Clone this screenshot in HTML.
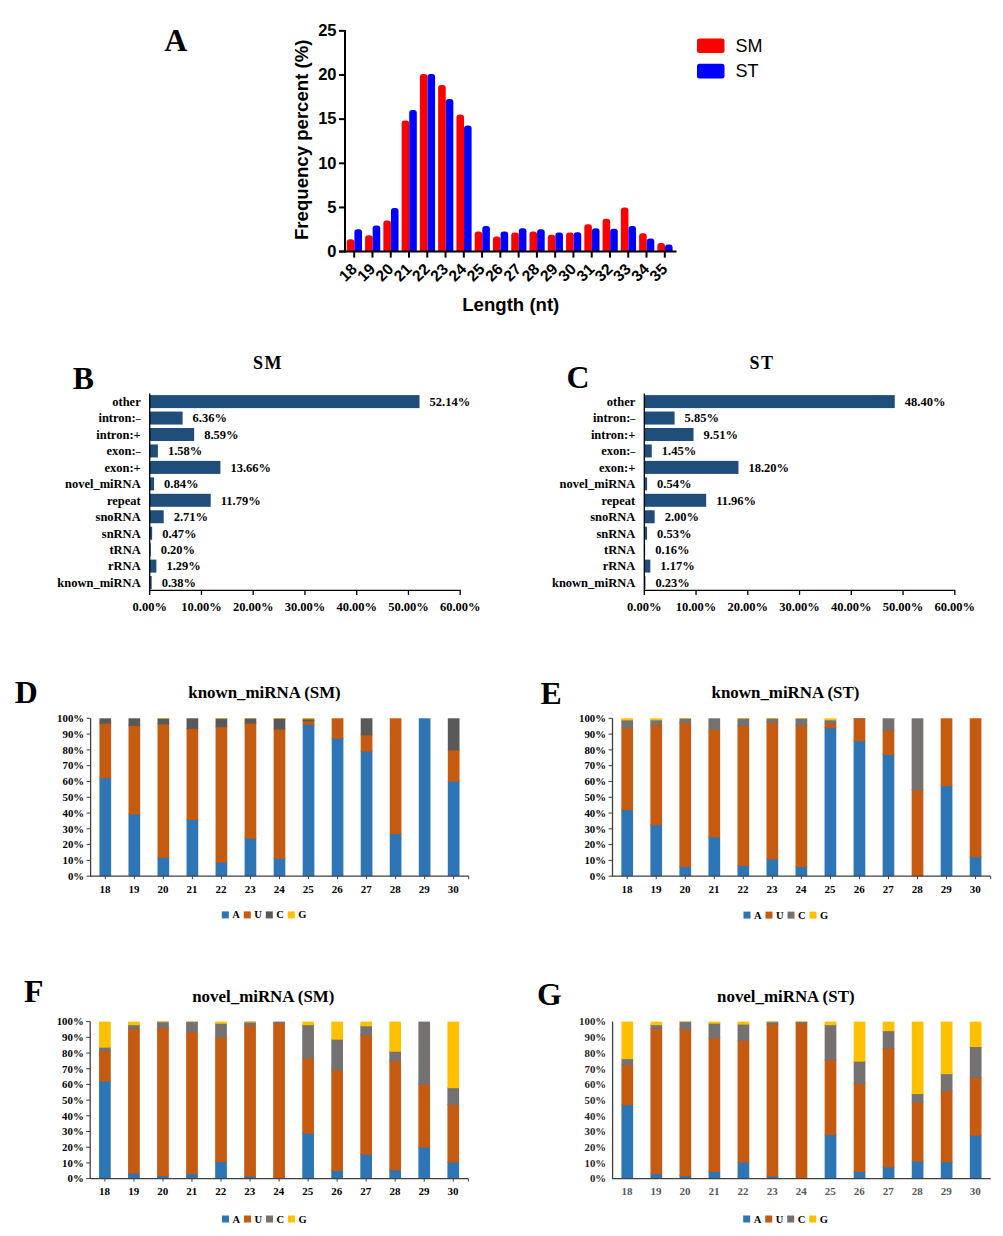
<!DOCTYPE html>
<html><head><meta charset="utf-8"><title>Figure</title>
<style>
html,body{margin:0;padding:0;background:#fff;}
body{width:1003px;height:1236px;overflow:hidden;font-family:"Liberation Serif", serif;}
svg{display:block;}
</style></head>
<body>
<svg width="1003" height="1236" viewBox="0 0 1003 1236">
<rect x="0" y="0" width="1003" height="1236" fill="#fff"/>
<text x="164.30" y="51.20" font-family="'Liberation Serif', serif" font-size="31.8" font-weight="bold" text-anchor="start" fill="#000" >A</text>
<text x="72.80" y="389.20" font-family="'Liberation Serif', serif" font-size="31.8" font-weight="bold" text-anchor="start" fill="#000" >B</text>
<text x="566.50" y="388.00" font-family="'Liberation Serif', serif" font-size="31.8" font-weight="bold" text-anchor="start" fill="#000" >C</text>
<text x="14.70" y="702.60" font-family="'Liberation Serif', serif" font-size="31.8" font-weight="bold" text-anchor="start" fill="#000" >D</text>
<text x="540.50" y="703.50" font-family="'Liberation Serif', serif" font-size="31.8" font-weight="bold" text-anchor="start" fill="#000" >E</text>
<text x="24.00" y="1001.80" font-family="'Liberation Serif', serif" font-size="31.8" font-weight="bold" text-anchor="start" fill="#000" >F</text>
<text x="537.00" y="1004.70" font-family="'Liberation Serif', serif" font-size="31.8" font-weight="bold" text-anchor="start" fill="#000" >G</text>
<path d="M346.80,251.60 V242.24 Q346.80,239.24 349.80,239.24 H351.40 Q354.40,239.24 354.40,242.24 V251.60 Z" fill="#FF0000"/>
<path d="M354.40,251.60 V232.17 Q354.40,229.17 357.40,229.17 H359.00 Q362.00,229.17 362.00,232.17 V251.60 Z" fill="#0000FF"/>
<path d="M365.07,251.60 V238.26 Q365.07,235.26 368.07,235.26 H369.67 Q372.67,235.26 372.67,238.26 V251.60 Z" fill="#FF0000"/>
<path d="M372.67,251.60 V228.46 Q372.67,225.46 375.67,225.46 H377.27 Q380.27,225.46 380.27,228.46 V251.60 Z" fill="#0000FF"/>
<path d="M383.34,251.60 V223.61 Q383.34,220.61 386.34,220.61 H387.94 Q390.94,220.61 390.94,223.61 V251.60 Z" fill="#FF0000"/>
<path d="M390.94,251.60 V210.89 Q390.94,207.89 393.94,207.89 H395.54 Q398.54,207.89 398.54,210.89 V251.60 Z" fill="#0000FF"/>
<path d="M401.61,251.60 V123.47 Q401.61,120.47 404.61,120.47 H406.21 Q409.21,120.47 409.21,123.47 V251.60 Z" fill="#FF0000"/>
<path d="M409.21,251.60 V113.06 Q409.21,110.06 412.21,110.06 H413.81 Q416.81,110.06 416.81,113.06 V251.60 Z" fill="#0000FF"/>
<path d="M419.88,251.60 V76.94 Q419.88,73.94 422.88,73.94 H424.48 Q427.48,73.94 427.48,76.94 V251.60 Z" fill="#FF0000"/>
<path d="M427.48,251.60 V76.94 Q427.48,73.94 430.48,73.94 H432.08 Q435.08,73.94 435.08,76.94 V251.60 Z" fill="#0000FF"/>
<path d="M438.15,251.60 V87.98 Q438.15,84.98 441.15,84.98 H442.75 Q445.75,84.98 445.75,87.98 V251.60 Z" fill="#FF0000"/>
<path d="M445.75,251.60 V101.93 Q445.75,98.93 448.75,98.93 H450.35 Q453.35,98.93 453.35,101.93 V251.60 Z" fill="#0000FF"/>
<path d="M456.42,251.60 V117.47 Q456.42,114.47 459.42,114.47 H461.02 Q464.02,114.47 464.02,117.47 V251.60 Z" fill="#FF0000"/>
<path d="M464.02,251.60 V128.42 Q464.02,125.42 467.02,125.42 H468.62 Q471.62,125.42 471.62,128.42 V251.60 Z" fill="#0000FF"/>
<path d="M474.69,251.60 V234.38 Q474.69,231.38 477.69,231.38 H479.29 Q482.29,231.38 482.29,234.38 V251.60 Z" fill="#FF0000"/>
<path d="M482.29,251.60 V229.08 Q482.29,226.08 485.29,226.08 H486.89 Q489.89,226.08 489.89,229.08 V251.60 Z" fill="#0000FF"/>
<path d="M492.96,251.60 V239.41 Q492.96,236.41 495.96,236.41 H497.56 Q500.56,236.41 500.56,239.41 V251.60 Z" fill="#FF0000"/>
<path d="M500.56,251.60 V234.38 Q500.56,231.38 503.56,231.38 H505.16 Q508.16,231.38 508.16,234.38 V251.60 Z" fill="#0000FF"/>
<path d="M511.23,251.60 V235.62 Q511.23,232.62 514.23,232.62 H515.83 Q518.83,232.62 518.83,235.62 V251.60 Z" fill="#FF0000"/>
<path d="M518.83,251.60 V231.20 Q518.83,228.20 521.83,228.20 H523.43 Q526.43,228.20 526.43,231.20 V251.60 Z" fill="#0000FF"/>
<path d="M529.50,251.60 V234.38 Q529.50,231.38 532.50,231.38 H534.10 Q537.10,231.38 537.10,234.38 V251.60 Z" fill="#FF0000"/>
<path d="M537.10,251.60 V232.35 Q537.10,229.35 540.10,229.35 H541.70 Q544.70,229.35 544.70,232.35 V251.60 Z" fill="#0000FF"/>
<path d="M547.77,251.60 V237.82 Q547.77,234.82 550.77,234.82 H552.37 Q555.37,234.82 555.37,237.82 V251.60 Z" fill="#FF0000"/>
<path d="M555.37,251.60 V235.62 Q555.37,232.62 558.37,232.62 H559.97 Q562.97,232.62 562.97,235.62 V251.60 Z" fill="#0000FF"/>
<path d="M566.04,251.60 V235.44 Q566.04,232.44 569.04,232.44 H570.64 Q573.64,232.44 573.64,235.44 V251.60 Z" fill="#FF0000"/>
<path d="M573.64,251.60 V235.26 Q573.64,232.26 576.64,232.26 H578.24 Q581.24,232.26 581.24,235.26 V251.60 Z" fill="#0000FF"/>
<path d="M584.31,251.60 V227.32 Q584.31,224.32 587.31,224.32 H588.91 Q591.91,224.32 591.91,227.32 V251.60 Z" fill="#FF0000"/>
<path d="M591.91,251.60 V231.20 Q591.91,228.20 594.91,228.20 H596.51 Q599.51,228.20 599.51,231.20 V251.60 Z" fill="#0000FF"/>
<path d="M602.58,251.60 V221.84 Q602.58,218.84 605.58,218.84 H607.18 Q610.18,218.84 610.18,221.84 V251.60 Z" fill="#FF0000"/>
<path d="M610.18,251.60 V231.73 Q610.18,228.73 613.18,228.73 H614.78 Q617.78,228.73 617.78,231.73 V251.60 Z" fill="#0000FF"/>
<path d="M620.85,251.60 V210.45 Q620.85,207.45 623.85,207.45 H625.45 Q628.45,207.45 628.45,210.45 V251.60 Z" fill="#FF0000"/>
<path d="M628.45,251.60 V229.08 Q628.45,226.08 631.45,226.08 H633.05 Q636.05,226.08 636.05,229.08 V251.60 Z" fill="#0000FF"/>
<path d="M639.12,251.60 V236.15 Q639.12,233.15 642.12,233.15 H643.72 Q646.72,233.15 646.72,236.15 V251.60 Z" fill="#FF0000"/>
<path d="M646.72,251.60 V241.53 Q646.72,238.53 649.72,238.53 H651.32 Q654.32,238.53 654.32,241.53 V251.60 Z" fill="#0000FF"/>
<path d="M657.39,251.60 V245.95 Q657.39,242.95 660.39,242.95 H661.99 Q664.99,242.95 664.99,245.95 V251.60 Z" fill="#FF0000"/>
<path d="M664.99,251.60 V247.54 Q664.99,244.54 667.99,244.54 H669.59 Q672.59,244.54 672.59,247.54 V251.60 Z" fill="#0000FF"/>
<line x1="345.00" y1="30.00" x2="345.00" y2="252.60" stroke="#000" stroke-width="2"/>
<line x1="339.00" y1="251.60" x2="676.50" y2="251.60" stroke="#000" stroke-width="2"/>
<line x1="339.00" y1="251.60" x2="345.00" y2="251.60" stroke="#000" stroke-width="2"/>
<text x="336.50" y="256.80" font-family="'Liberation Sans', sans-serif" font-size="16.5" font-weight="bold" text-anchor="end" fill="#000" >0</text>
<line x1="339.00" y1="207.45" x2="345.00" y2="207.45" stroke="#000" stroke-width="2"/>
<text x="336.50" y="212.65" font-family="'Liberation Sans', sans-serif" font-size="16.5" font-weight="bold" text-anchor="end" fill="#000" >5</text>
<line x1="339.00" y1="163.30" x2="345.00" y2="163.30" stroke="#000" stroke-width="2"/>
<text x="336.50" y="168.50" font-family="'Liberation Sans', sans-serif" font-size="16.5" font-weight="bold" text-anchor="end" fill="#000" >10</text>
<line x1="339.00" y1="119.15" x2="345.00" y2="119.15" stroke="#000" stroke-width="2"/>
<text x="336.50" y="124.35" font-family="'Liberation Sans', sans-serif" font-size="16.5" font-weight="bold" text-anchor="end" fill="#000" >15</text>
<line x1="339.00" y1="75.00" x2="345.00" y2="75.00" stroke="#000" stroke-width="2"/>
<text x="336.50" y="80.20" font-family="'Liberation Sans', sans-serif" font-size="16.5" font-weight="bold" text-anchor="end" fill="#000" >20</text>
<line x1="339.00" y1="30.85" x2="345.00" y2="30.85" stroke="#000" stroke-width="2"/>
<text x="336.50" y="36.05" font-family="'Liberation Sans', sans-serif" font-size="16.5" font-weight="bold" text-anchor="end" fill="#000" >25</text>
<line x1="354.20" y1="251.60" x2="354.20" y2="257.60" stroke="#000" stroke-width="2"/>
<text x="0.00" y="0.00" font-family="'Liberation Sans', sans-serif" font-size="15.7" font-weight="bold" text-anchor="end" fill="#000" transform="translate(349.90,262.20) rotate(-45) translate(0,11.2)">18</text>
<line x1="372.47" y1="251.60" x2="372.47" y2="257.60" stroke="#000" stroke-width="2"/>
<text x="0.00" y="0.00" font-family="'Liberation Sans', sans-serif" font-size="15.7" font-weight="bold" text-anchor="end" fill="#000" transform="translate(368.17,262.20) rotate(-45) translate(0,11.2)">19</text>
<line x1="390.74" y1="251.60" x2="390.74" y2="257.60" stroke="#000" stroke-width="2"/>
<text x="0.00" y="0.00" font-family="'Liberation Sans', sans-serif" font-size="15.7" font-weight="bold" text-anchor="end" fill="#000" transform="translate(386.44,262.20) rotate(-45) translate(0,11.2)">20</text>
<line x1="409.01" y1="251.60" x2="409.01" y2="257.60" stroke="#000" stroke-width="2"/>
<text x="0.00" y="0.00" font-family="'Liberation Sans', sans-serif" font-size="15.7" font-weight="bold" text-anchor="end" fill="#000" transform="translate(404.71,262.20) rotate(-45) translate(0,11.2)">21</text>
<line x1="427.28" y1="251.60" x2="427.28" y2="257.60" stroke="#000" stroke-width="2"/>
<text x="0.00" y="0.00" font-family="'Liberation Sans', sans-serif" font-size="15.7" font-weight="bold" text-anchor="end" fill="#000" transform="translate(422.98,262.20) rotate(-45) translate(0,11.2)">22</text>
<line x1="445.55" y1="251.60" x2="445.55" y2="257.60" stroke="#000" stroke-width="2"/>
<text x="0.00" y="0.00" font-family="'Liberation Sans', sans-serif" font-size="15.7" font-weight="bold" text-anchor="end" fill="#000" transform="translate(441.25,262.20) rotate(-45) translate(0,11.2)">23</text>
<line x1="463.82" y1="251.60" x2="463.82" y2="257.60" stroke="#000" stroke-width="2"/>
<text x="0.00" y="0.00" font-family="'Liberation Sans', sans-serif" font-size="15.7" font-weight="bold" text-anchor="end" fill="#000" transform="translate(459.52,262.20) rotate(-45) translate(0,11.2)">24</text>
<line x1="482.09" y1="251.60" x2="482.09" y2="257.60" stroke="#000" stroke-width="2"/>
<text x="0.00" y="0.00" font-family="'Liberation Sans', sans-serif" font-size="15.7" font-weight="bold" text-anchor="end" fill="#000" transform="translate(477.79,262.20) rotate(-45) translate(0,11.2)">25</text>
<line x1="500.36" y1="251.60" x2="500.36" y2="257.60" stroke="#000" stroke-width="2"/>
<text x="0.00" y="0.00" font-family="'Liberation Sans', sans-serif" font-size="15.7" font-weight="bold" text-anchor="end" fill="#000" transform="translate(496.06,262.20) rotate(-45) translate(0,11.2)">26</text>
<line x1="518.63" y1="251.60" x2="518.63" y2="257.60" stroke="#000" stroke-width="2"/>
<text x="0.00" y="0.00" font-family="'Liberation Sans', sans-serif" font-size="15.7" font-weight="bold" text-anchor="end" fill="#000" transform="translate(514.33,262.20) rotate(-45) translate(0,11.2)">27</text>
<line x1="536.90" y1="251.60" x2="536.90" y2="257.60" stroke="#000" stroke-width="2"/>
<text x="0.00" y="0.00" font-family="'Liberation Sans', sans-serif" font-size="15.7" font-weight="bold" text-anchor="end" fill="#000" transform="translate(532.60,262.20) rotate(-45) translate(0,11.2)">28</text>
<line x1="555.17" y1="251.60" x2="555.17" y2="257.60" stroke="#000" stroke-width="2"/>
<text x="0.00" y="0.00" font-family="'Liberation Sans', sans-serif" font-size="15.7" font-weight="bold" text-anchor="end" fill="#000" transform="translate(550.87,262.20) rotate(-45) translate(0,11.2)">29</text>
<line x1="573.44" y1="251.60" x2="573.44" y2="257.60" stroke="#000" stroke-width="2"/>
<text x="0.00" y="0.00" font-family="'Liberation Sans', sans-serif" font-size="15.7" font-weight="bold" text-anchor="end" fill="#000" transform="translate(569.14,262.20) rotate(-45) translate(0,11.2)">30</text>
<line x1="591.71" y1="251.60" x2="591.71" y2="257.60" stroke="#000" stroke-width="2"/>
<text x="0.00" y="0.00" font-family="'Liberation Sans', sans-serif" font-size="15.7" font-weight="bold" text-anchor="end" fill="#000" transform="translate(587.41,262.20) rotate(-45) translate(0,11.2)">31</text>
<line x1="609.98" y1="251.60" x2="609.98" y2="257.60" stroke="#000" stroke-width="2"/>
<text x="0.00" y="0.00" font-family="'Liberation Sans', sans-serif" font-size="15.7" font-weight="bold" text-anchor="end" fill="#000" transform="translate(605.68,262.20) rotate(-45) translate(0,11.2)">32</text>
<line x1="628.25" y1="251.60" x2="628.25" y2="257.60" stroke="#000" stroke-width="2"/>
<text x="0.00" y="0.00" font-family="'Liberation Sans', sans-serif" font-size="15.7" font-weight="bold" text-anchor="end" fill="#000" transform="translate(623.95,262.20) rotate(-45) translate(0,11.2)">33</text>
<line x1="646.52" y1="251.60" x2="646.52" y2="257.60" stroke="#000" stroke-width="2"/>
<text x="0.00" y="0.00" font-family="'Liberation Sans', sans-serif" font-size="15.7" font-weight="bold" text-anchor="end" fill="#000" transform="translate(642.22,262.20) rotate(-45) translate(0,11.2)">34</text>
<line x1="664.79" y1="251.60" x2="664.79" y2="257.60" stroke="#000" stroke-width="2"/>
<text x="0.00" y="0.00" font-family="'Liberation Sans', sans-serif" font-size="15.7" font-weight="bold" text-anchor="end" fill="#000" transform="translate(660.49,262.20) rotate(-45) translate(0,11.2)">35</text>
<text x="0.00" y="0.00" font-family="'Liberation Sans', sans-serif" font-size="18.6" font-weight="bold" text-anchor="middle" fill="#000" transform="translate(307.9,139.8) rotate(-90)">Frequency percent (%)</text>
<text x="510.80" y="310.90" font-family="'Liberation Sans', sans-serif" font-size="18.6" font-weight="bold" text-anchor="middle" fill="#000" >Length (nt)</text>
<rect x="697.00" y="38.50" width="27.50" height="14.50" fill="#FF0000" rx="2.5"/>
<rect x="697.00" y="63.70" width="27.50" height="14.80" fill="#0000FF" rx="2.5"/>
<text x="735.50" y="52.30" font-family="'Liberation Sans', sans-serif" font-size="18" font-weight="normal" text-anchor="start" fill="#000" >SM</text>
<text x="735.50" y="77.30" font-family="'Liberation Sans', sans-serif" font-size="18" font-weight="normal" text-anchor="start" fill="#000" >ST</text>
<text x="268.00" y="369.30" font-family="'Liberation Serif', serif" font-size="18" font-weight="bold" text-anchor="middle" fill="#000" letter-spacing="1.4">SM</text>
<rect x="149.70" y="395.10" width="269.82" height="13.00" fill="#1F4E7A" />
<text x="140.70" y="405.90" font-family="'Liberation Serif', serif" font-size="12.5" font-weight="bold" text-anchor="end" fill="#000" >other</text>
<text x="429.52" y="405.90" font-family="'Liberation Serif', serif" font-size="12.5" font-weight="bold" text-anchor="start" fill="#000" >52.14%</text>
<rect x="149.70" y="411.55" width="32.91" height="13.00" fill="#1F4E7A" />
<text x="140.70" y="422.35" font-family="'Liberation Serif', serif" font-size="12.5" font-weight="bold" text-anchor="end" fill="#000" >intron:<tspan font-size="10">–</tspan></text>
<text x="192.61" y="422.35" font-family="'Liberation Serif', serif" font-size="12.5" font-weight="bold" text-anchor="start" fill="#000" >6.36%</text>
<rect x="149.70" y="428.00" width="44.45" height="13.00" fill="#1F4E7A" />
<text x="140.70" y="438.80" font-family="'Liberation Serif', serif" font-size="12.5" font-weight="bold" text-anchor="end" fill="#000" >intron:+</text>
<text x="204.15" y="438.80" font-family="'Liberation Serif', serif" font-size="12.5" font-weight="bold" text-anchor="start" fill="#000" >8.59%</text>
<rect x="149.70" y="444.45" width="8.18" height="13.00" fill="#1F4E7A" />
<text x="140.70" y="455.25" font-family="'Liberation Serif', serif" font-size="12.5" font-weight="bold" text-anchor="end" fill="#000" >exon:<tspan font-size="10">–</tspan></text>
<text x="167.88" y="455.25" font-family="'Liberation Serif', serif" font-size="12.5" font-weight="bold" text-anchor="start" fill="#000" >1.58%</text>
<rect x="149.70" y="460.90" width="70.69" height="13.00" fill="#1F4E7A" />
<text x="140.70" y="471.70" font-family="'Liberation Serif', serif" font-size="12.5" font-weight="bold" text-anchor="end" fill="#000" >exon:+</text>
<text x="230.39" y="471.70" font-family="'Liberation Serif', serif" font-size="12.5" font-weight="bold" text-anchor="start" fill="#000" >13.66%</text>
<rect x="149.70" y="477.35" width="4.35" height="13.00" fill="#1F4E7A" />
<text x="140.70" y="488.15" font-family="'Liberation Serif', serif" font-size="12.5" font-weight="bold" text-anchor="end" fill="#000" >novel_miRNA</text>
<text x="164.05" y="488.15" font-family="'Liberation Serif', serif" font-size="12.5" font-weight="bold" text-anchor="start" fill="#000" >0.84%</text>
<rect x="149.70" y="493.80" width="61.01" height="13.00" fill="#1F4E7A" />
<text x="140.70" y="504.60" font-family="'Liberation Serif', serif" font-size="12.5" font-weight="bold" text-anchor="end" fill="#000" >repeat</text>
<text x="220.71" y="504.60" font-family="'Liberation Serif', serif" font-size="12.5" font-weight="bold" text-anchor="start" fill="#000" >11.79%</text>
<rect x="149.70" y="510.25" width="14.02" height="13.00" fill="#1F4E7A" />
<text x="140.70" y="521.05" font-family="'Liberation Serif', serif" font-size="12.5" font-weight="bold" text-anchor="end" fill="#000" >snoRNA</text>
<text x="173.72" y="521.05" font-family="'Liberation Serif', serif" font-size="12.5" font-weight="bold" text-anchor="start" fill="#000" >2.71%</text>
<rect x="149.70" y="526.70" width="2.43" height="13.00" fill="#1F4E7A" />
<text x="140.70" y="537.50" font-family="'Liberation Serif', serif" font-size="12.5" font-weight="bold" text-anchor="end" fill="#000" >snRNA</text>
<text x="162.13" y="537.50" font-family="'Liberation Serif', serif" font-size="12.5" font-weight="bold" text-anchor="start" fill="#000" >0.47%</text>
<rect x="149.70" y="543.15" width="1.03" height="13.00" fill="#1F4E7A" />
<text x="140.70" y="553.95" font-family="'Liberation Serif', serif" font-size="12.5" font-weight="bold" text-anchor="end" fill="#000" >tRNA</text>
<text x="160.73" y="553.95" font-family="'Liberation Serif', serif" font-size="12.5" font-weight="bold" text-anchor="start" fill="#000" >0.20%</text>
<rect x="149.70" y="559.60" width="6.68" height="13.00" fill="#1F4E7A" />
<text x="140.70" y="570.40" font-family="'Liberation Serif', serif" font-size="12.5" font-weight="bold" text-anchor="end" fill="#000" >rRNA</text>
<text x="166.38" y="570.40" font-family="'Liberation Serif', serif" font-size="12.5" font-weight="bold" text-anchor="start" fill="#000" >1.29%</text>
<rect x="149.70" y="576.05" width="1.97" height="13.00" fill="#1F4E7A" />
<text x="140.70" y="586.85" font-family="'Liberation Serif', serif" font-size="12.5" font-weight="bold" text-anchor="end" fill="#000" >known_miRNA</text>
<text x="161.67" y="586.85" font-family="'Liberation Serif', serif" font-size="12.5" font-weight="bold" text-anchor="start" fill="#000" >0.38%</text>
<line x1="149.70" y1="393.40" x2="149.70" y2="590.90" stroke="#000" stroke-width="1.3"/>
<line x1="149.70" y1="590.40" x2="460.70" y2="590.40" stroke="#000" stroke-width="1.3"/>
<line x1="149.70" y1="590.40" x2="149.70" y2="594.90" stroke="#000" stroke-width="1.3"/>
<text x="149.70" y="610.90" font-family="'Liberation Serif', serif" font-size="12.5" font-weight="bold" text-anchor="middle" fill="#000" >0.00%</text>
<line x1="201.45" y1="590.40" x2="201.45" y2="594.90" stroke="#000" stroke-width="1.3"/>
<text x="201.45" y="610.90" font-family="'Liberation Serif', serif" font-size="12.5" font-weight="bold" text-anchor="middle" fill="#000" >10.00%</text>
<line x1="253.20" y1="590.40" x2="253.20" y2="594.90" stroke="#000" stroke-width="1.3"/>
<text x="253.20" y="610.90" font-family="'Liberation Serif', serif" font-size="12.5" font-weight="bold" text-anchor="middle" fill="#000" >20.00%</text>
<line x1="304.95" y1="590.40" x2="304.95" y2="594.90" stroke="#000" stroke-width="1.3"/>
<text x="304.95" y="610.90" font-family="'Liberation Serif', serif" font-size="12.5" font-weight="bold" text-anchor="middle" fill="#000" >30.00%</text>
<line x1="356.70" y1="590.40" x2="356.70" y2="594.90" stroke="#000" stroke-width="1.3"/>
<text x="356.70" y="610.90" font-family="'Liberation Serif', serif" font-size="12.5" font-weight="bold" text-anchor="middle" fill="#000" >40.00%</text>
<line x1="408.45" y1="590.40" x2="408.45" y2="594.90" stroke="#000" stroke-width="1.3"/>
<text x="408.45" y="610.90" font-family="'Liberation Serif', serif" font-size="12.5" font-weight="bold" text-anchor="middle" fill="#000" >50.00%</text>
<line x1="460.20" y1="590.40" x2="460.20" y2="594.90" stroke="#000" stroke-width="1.3"/>
<text x="460.20" y="610.90" font-family="'Liberation Serif', serif" font-size="12.5" font-weight="bold" text-anchor="middle" fill="#000" >60.00%</text>
<text x="762.00" y="369.30" font-family="'Liberation Serif', serif" font-size="18" font-weight="bold" text-anchor="middle" fill="#000" letter-spacing="1.4">ST</text>
<rect x="644.30" y="395.10" width="250.47" height="13.00" fill="#1F4E7A" />
<text x="635.30" y="405.90" font-family="'Liberation Serif', serif" font-size="12.5" font-weight="bold" text-anchor="end" fill="#000" >other</text>
<text x="904.77" y="405.90" font-family="'Liberation Serif', serif" font-size="12.5" font-weight="bold" text-anchor="start" fill="#000" >48.40%</text>
<rect x="644.30" y="411.55" width="30.27" height="13.00" fill="#1F4E7A" />
<text x="635.30" y="422.35" font-family="'Liberation Serif', serif" font-size="12.5" font-weight="bold" text-anchor="end" fill="#000" >intron:<tspan font-size="10">–</tspan></text>
<text x="684.57" y="422.35" font-family="'Liberation Serif', serif" font-size="12.5" font-weight="bold" text-anchor="start" fill="#000" >5.85%</text>
<rect x="644.30" y="428.00" width="49.21" height="13.00" fill="#1F4E7A" />
<text x="635.30" y="438.80" font-family="'Liberation Serif', serif" font-size="12.5" font-weight="bold" text-anchor="end" fill="#000" >intron:+</text>
<text x="703.51" y="438.80" font-family="'Liberation Serif', serif" font-size="12.5" font-weight="bold" text-anchor="start" fill="#000" >9.51%</text>
<rect x="644.30" y="444.45" width="7.50" height="13.00" fill="#1F4E7A" />
<text x="635.30" y="455.25" font-family="'Liberation Serif', serif" font-size="12.5" font-weight="bold" text-anchor="end" fill="#000" >exon:<tspan font-size="10">–</tspan></text>
<text x="661.80" y="455.25" font-family="'Liberation Serif', serif" font-size="12.5" font-weight="bold" text-anchor="start" fill="#000" >1.45%</text>
<rect x="644.30" y="460.90" width="94.18" height="13.00" fill="#1F4E7A" />
<text x="635.30" y="471.70" font-family="'Liberation Serif', serif" font-size="12.5" font-weight="bold" text-anchor="end" fill="#000" >exon:+</text>
<text x="748.48" y="471.70" font-family="'Liberation Serif', serif" font-size="12.5" font-weight="bold" text-anchor="start" fill="#000" >18.20%</text>
<rect x="644.30" y="477.35" width="2.79" height="13.00" fill="#1F4E7A" />
<text x="635.30" y="488.15" font-family="'Liberation Serif', serif" font-size="12.5" font-weight="bold" text-anchor="end" fill="#000" >novel_miRNA</text>
<text x="657.09" y="488.15" font-family="'Liberation Serif', serif" font-size="12.5" font-weight="bold" text-anchor="start" fill="#000" >0.54%</text>
<rect x="644.30" y="493.80" width="61.89" height="13.00" fill="#1F4E7A" />
<text x="635.30" y="504.60" font-family="'Liberation Serif', serif" font-size="12.5" font-weight="bold" text-anchor="end" fill="#000" >repeat</text>
<text x="716.19" y="504.60" font-family="'Liberation Serif', serif" font-size="12.5" font-weight="bold" text-anchor="start" fill="#000" >11.96%</text>
<rect x="644.30" y="510.25" width="10.35" height="13.00" fill="#1F4E7A" />
<text x="635.30" y="521.05" font-family="'Liberation Serif', serif" font-size="12.5" font-weight="bold" text-anchor="end" fill="#000" >snoRNA</text>
<text x="664.65" y="521.05" font-family="'Liberation Serif', serif" font-size="12.5" font-weight="bold" text-anchor="start" fill="#000" >2.00%</text>
<rect x="644.30" y="526.70" width="2.74" height="13.00" fill="#1F4E7A" />
<text x="635.30" y="537.50" font-family="'Liberation Serif', serif" font-size="12.5" font-weight="bold" text-anchor="end" fill="#000" >snRNA</text>
<text x="657.04" y="537.50" font-family="'Liberation Serif', serif" font-size="12.5" font-weight="bold" text-anchor="start" fill="#000" >0.53%</text>
<rect x="644.30" y="543.15" width="0.83" height="13.00" fill="#1F4E7A" />
<text x="635.30" y="553.95" font-family="'Liberation Serif', serif" font-size="12.5" font-weight="bold" text-anchor="end" fill="#000" >tRNA</text>
<text x="655.13" y="553.95" font-family="'Liberation Serif', serif" font-size="12.5" font-weight="bold" text-anchor="start" fill="#000" >0.16%</text>
<rect x="644.30" y="559.60" width="6.05" height="13.00" fill="#1F4E7A" />
<text x="635.30" y="570.40" font-family="'Liberation Serif', serif" font-size="12.5" font-weight="bold" text-anchor="end" fill="#000" >rRNA</text>
<text x="660.35" y="570.40" font-family="'Liberation Serif', serif" font-size="12.5" font-weight="bold" text-anchor="start" fill="#000" >1.17%</text>
<rect x="644.30" y="576.05" width="1.19" height="13.00" fill="#1F4E7A" />
<text x="635.30" y="586.85" font-family="'Liberation Serif', serif" font-size="12.5" font-weight="bold" text-anchor="end" fill="#000" >known_miRNA</text>
<text x="655.49" y="586.85" font-family="'Liberation Serif', serif" font-size="12.5" font-weight="bold" text-anchor="start" fill="#000" >0.23%</text>
<line x1="644.30" y1="393.40" x2="644.30" y2="590.90" stroke="#000" stroke-width="1.3"/>
<line x1="644.30" y1="590.40" x2="955.30" y2="590.40" stroke="#000" stroke-width="1.3"/>
<line x1="644.30" y1="590.40" x2="644.30" y2="594.90" stroke="#000" stroke-width="1.3"/>
<text x="644.30" y="610.90" font-family="'Liberation Serif', serif" font-size="12.5" font-weight="bold" text-anchor="middle" fill="#000" >0.00%</text>
<line x1="696.05" y1="590.40" x2="696.05" y2="594.90" stroke="#000" stroke-width="1.3"/>
<text x="696.05" y="610.90" font-family="'Liberation Serif', serif" font-size="12.5" font-weight="bold" text-anchor="middle" fill="#000" >10.00%</text>
<line x1="747.80" y1="590.40" x2="747.80" y2="594.90" stroke="#000" stroke-width="1.3"/>
<text x="747.80" y="610.90" font-family="'Liberation Serif', serif" font-size="12.5" font-weight="bold" text-anchor="middle" fill="#000" >20.00%</text>
<line x1="799.55" y1="590.40" x2="799.55" y2="594.90" stroke="#000" stroke-width="1.3"/>
<text x="799.55" y="610.90" font-family="'Liberation Serif', serif" font-size="12.5" font-weight="bold" text-anchor="middle" fill="#000" >30.00%</text>
<line x1="851.30" y1="590.40" x2="851.30" y2="594.90" stroke="#000" stroke-width="1.3"/>
<text x="851.30" y="610.90" font-family="'Liberation Serif', serif" font-size="12.5" font-weight="bold" text-anchor="middle" fill="#000" >40.00%</text>
<line x1="903.05" y1="590.40" x2="903.05" y2="594.90" stroke="#000" stroke-width="1.3"/>
<text x="903.05" y="610.90" font-family="'Liberation Serif', serif" font-size="12.5" font-weight="bold" text-anchor="middle" fill="#000" >50.00%</text>
<line x1="954.80" y1="590.40" x2="954.80" y2="594.90" stroke="#000" stroke-width="1.3"/>
<text x="954.80" y="610.90" font-family="'Liberation Serif', serif" font-size="12.5" font-weight="bold" text-anchor="middle" fill="#000" >60.00%</text>
<text x="264.50" y="697.50" font-family="'Liberation Serif', serif" font-size="16.9" font-weight="bold" text-anchor="middle" fill="#000" >known_miRNA (SM)</text>
<rect x="99.45" y="777.30" width="11.70" height="98.90" fill="#2E75B6" />
<rect x="99.45" y="722.67" width="11.70" height="55.63" fill="#C55A11" />
<rect x="99.45" y="718.30" width="11.70" height="5.37" fill="#595959" />
<text x="105.00" y="892.60" font-family="'Liberation Serif', serif" font-size="11" font-weight="bold" text-anchor="middle" fill="#000" >18</text>
<line x1="105.30" y1="876.20" x2="105.30" y2="879.20" stroke="#404040" stroke-width="1"/>
<rect x="128.48" y="813.62" width="11.70" height="62.58" fill="#2E75B6" />
<rect x="128.48" y="724.88" width="11.70" height="89.74" fill="#C55A11" />
<rect x="128.48" y="718.30" width="11.70" height="7.58" fill="#595959" />
<text x="134.03" y="892.60" font-family="'Liberation Serif', serif" font-size="11" font-weight="bold" text-anchor="middle" fill="#000" >19</text>
<line x1="134.33" y1="876.20" x2="134.33" y2="879.20" stroke="#404040" stroke-width="1"/>
<rect x="157.51" y="856.88" width="11.70" height="19.32" fill="#2E75B6" />
<rect x="157.51" y="723.30" width="11.70" height="134.58" fill="#C55A11" />
<rect x="157.51" y="718.30" width="11.70" height="6.00" fill="#595959" />
<rect x="157.51" y="718.30" width="11.70" height="0.47" fill="#FFC000" />
<text x="163.06" y="892.60" font-family="'Liberation Serif', serif" font-size="11" font-weight="bold" text-anchor="middle" fill="#000" >20</text>
<line x1="163.36" y1="876.20" x2="163.36" y2="879.20" stroke="#404040" stroke-width="1"/>
<rect x="186.54" y="818.99" width="11.70" height="57.21" fill="#2E75B6" />
<rect x="186.54" y="728.04" width="11.70" height="91.95" fill="#C55A11" />
<rect x="186.54" y="718.30" width="11.70" height="10.74" fill="#595959" />
<text x="192.09" y="892.60" font-family="'Liberation Serif', serif" font-size="11" font-weight="bold" text-anchor="middle" fill="#000" >21</text>
<line x1="192.39" y1="876.20" x2="192.39" y2="879.20" stroke="#404040" stroke-width="1"/>
<rect x="215.57" y="861.62" width="11.70" height="14.58" fill="#2E75B6" />
<rect x="215.57" y="726.14" width="11.70" height="136.48" fill="#C55A11" />
<rect x="215.57" y="718.30" width="11.70" height="8.84" fill="#595959" />
<rect x="215.57" y="718.30" width="11.70" height="0.47" fill="#FFC000" />
<text x="221.12" y="892.60" font-family="'Liberation Serif', serif" font-size="11" font-weight="bold" text-anchor="middle" fill="#000" >22</text>
<line x1="221.42" y1="876.20" x2="221.42" y2="879.20" stroke="#404040" stroke-width="1"/>
<rect x="244.60" y="837.62" width="11.70" height="38.58" fill="#2E75B6" />
<rect x="244.60" y="722.51" width="11.70" height="116.11" fill="#C55A11" />
<rect x="244.60" y="718.30" width="11.70" height="5.21" fill="#595959" />
<rect x="244.60" y="718.30" width="11.70" height="0.32" fill="#FFC000" />
<text x="250.15" y="892.60" font-family="'Liberation Serif', serif" font-size="11" font-weight="bold" text-anchor="middle" fill="#000" >23</text>
<line x1="250.45" y1="876.20" x2="250.45" y2="879.20" stroke="#404040" stroke-width="1"/>
<rect x="273.63" y="857.83" width="11.70" height="18.37" fill="#2E75B6" />
<rect x="273.63" y="728.51" width="11.70" height="130.32" fill="#C55A11" />
<rect x="273.63" y="718.30" width="11.70" height="11.21" fill="#595959" />
<rect x="273.63" y="718.30" width="11.70" height="0.47" fill="#FFC000" />
<text x="279.18" y="892.60" font-family="'Liberation Serif', serif" font-size="11" font-weight="bold" text-anchor="middle" fill="#000" >24</text>
<line x1="279.48" y1="876.20" x2="279.48" y2="879.20" stroke="#404040" stroke-width="1"/>
<rect x="302.66" y="723.93" width="11.70" height="152.27" fill="#2E75B6" />
<rect x="302.66" y="720.30" width="11.70" height="4.63" fill="#C55A11" />
<rect x="302.66" y="718.30" width="11.70" height="3.00" fill="#595959" />
<rect x="302.66" y="718.30" width="11.70" height="0.95" fill="#FFC000" />
<text x="308.21" y="892.60" font-family="'Liberation Serif', serif" font-size="11" font-weight="bold" text-anchor="middle" fill="#000" >25</text>
<line x1="308.51" y1="876.20" x2="308.51" y2="879.20" stroke="#404040" stroke-width="1"/>
<rect x="331.69" y="737.67" width="11.70" height="138.53" fill="#2E75B6" />
<rect x="331.69" y="718.30" width="11.70" height="20.37" fill="#C55A11" />
<text x="337.24" y="892.60" font-family="'Liberation Serif', serif" font-size="11" font-weight="bold" text-anchor="middle" fill="#000" >26</text>
<line x1="337.54" y1="876.20" x2="337.54" y2="879.20" stroke="#404040" stroke-width="1"/>
<rect x="360.72" y="750.46" width="11.70" height="125.74" fill="#2E75B6" />
<rect x="360.72" y="734.35" width="11.70" height="17.11" fill="#C55A11" />
<rect x="360.72" y="718.30" width="11.70" height="17.05" fill="#595959" />
<text x="366.27" y="892.60" font-family="'Liberation Serif', serif" font-size="11" font-weight="bold" text-anchor="middle" fill="#000" >27</text>
<line x1="366.57" y1="876.20" x2="366.57" y2="879.20" stroke="#404040" stroke-width="1"/>
<rect x="389.75" y="833.20" width="11.70" height="43.00" fill="#2E75B6" />
<rect x="389.75" y="718.30" width="11.70" height="115.90" fill="#C55A11" />
<text x="395.30" y="892.60" font-family="'Liberation Serif', serif" font-size="11" font-weight="bold" text-anchor="middle" fill="#000" >28</text>
<line x1="395.60" y1="876.20" x2="395.60" y2="879.20" stroke="#404040" stroke-width="1"/>
<rect x="418.78" y="718.30" width="11.70" height="157.90" fill="#2E75B6" />
<text x="424.33" y="892.60" font-family="'Liberation Serif', serif" font-size="11" font-weight="bold" text-anchor="middle" fill="#000" >29</text>
<line x1="424.63" y1="876.20" x2="424.63" y2="879.20" stroke="#404040" stroke-width="1"/>
<rect x="447.81" y="780.62" width="11.70" height="95.58" fill="#2E75B6" />
<rect x="447.81" y="749.35" width="11.70" height="32.26" fill="#C55A11" />
<rect x="447.81" y="718.30" width="11.70" height="32.05" fill="#595959" />
<text x="453.36" y="892.60" font-family="'Liberation Serif', serif" font-size="11" font-weight="bold" text-anchor="middle" fill="#000" >30</text>
<line x1="453.66" y1="876.20" x2="453.66" y2="879.20" stroke="#404040" stroke-width="1"/>
<line x1="90.60" y1="718.30" x2="90.60" y2="876.70" stroke="#404040" stroke-width="1.3"/>
<line x1="90.60" y1="876.20" x2="468.76" y2="876.20" stroke="#404040" stroke-width="1.3"/>
<line x1="468.76" y1="876.20" x2="468.76" y2="879.20" stroke="#404040" stroke-width="1"/>
<line x1="86.60" y1="876.20" x2="90.60" y2="876.20" stroke="#404040" stroke-width="1"/>
<text x="84.10" y="880.00" font-family="'Liberation Serif', serif" font-size="10.8" font-weight="bold" text-anchor="end" fill="#000" >0%</text>
<line x1="86.60" y1="860.41" x2="90.60" y2="860.41" stroke="#404040" stroke-width="1"/>
<text x="84.10" y="864.21" font-family="'Liberation Serif', serif" font-size="10.8" font-weight="bold" text-anchor="end" fill="#000" >10%</text>
<line x1="86.60" y1="844.62" x2="90.60" y2="844.62" stroke="#404040" stroke-width="1"/>
<text x="84.10" y="848.42" font-family="'Liberation Serif', serif" font-size="10.8" font-weight="bold" text-anchor="end" fill="#000" >20%</text>
<line x1="86.60" y1="828.83" x2="90.60" y2="828.83" stroke="#404040" stroke-width="1"/>
<text x="84.10" y="832.63" font-family="'Liberation Serif', serif" font-size="10.8" font-weight="bold" text-anchor="end" fill="#000" >30%</text>
<line x1="86.60" y1="813.04" x2="90.60" y2="813.04" stroke="#404040" stroke-width="1"/>
<text x="84.10" y="816.84" font-family="'Liberation Serif', serif" font-size="10.8" font-weight="bold" text-anchor="end" fill="#000" >40%</text>
<line x1="86.60" y1="797.25" x2="90.60" y2="797.25" stroke="#404040" stroke-width="1"/>
<text x="84.10" y="801.05" font-family="'Liberation Serif', serif" font-size="10.8" font-weight="bold" text-anchor="end" fill="#000" >50%</text>
<line x1="86.60" y1="781.46" x2="90.60" y2="781.46" stroke="#404040" stroke-width="1"/>
<text x="84.10" y="785.26" font-family="'Liberation Serif', serif" font-size="10.8" font-weight="bold" text-anchor="end" fill="#000" >60%</text>
<line x1="86.60" y1="765.67" x2="90.60" y2="765.67" stroke="#404040" stroke-width="1"/>
<text x="84.10" y="769.47" font-family="'Liberation Serif', serif" font-size="10.8" font-weight="bold" text-anchor="end" fill="#000" >70%</text>
<line x1="86.60" y1="749.88" x2="90.60" y2="749.88" stroke="#404040" stroke-width="1"/>
<text x="84.10" y="753.68" font-family="'Liberation Serif', serif" font-size="10.8" font-weight="bold" text-anchor="end" fill="#000" >80%</text>
<line x1="86.60" y1="734.09" x2="90.60" y2="734.09" stroke="#404040" stroke-width="1"/>
<text x="84.10" y="737.89" font-family="'Liberation Serif', serif" font-size="10.8" font-weight="bold" text-anchor="end" fill="#000" >90%</text>
<line x1="86.60" y1="718.30" x2="90.60" y2="718.30" stroke="#404040" stroke-width="1"/>
<text x="84.10" y="722.10" font-family="'Liberation Serif', serif" font-size="10.8" font-weight="bold" text-anchor="end" fill="#000" >100%</text>
<rect x="221.80" y="911.40" width="7.00" height="7.00" fill="#2E75B6" />
<text x="232.30" y="918.40" font-family="'Liberation Serif', serif" font-size="10.5" font-weight="bold" text-anchor="start" fill="#000" >A</text>
<rect x="243.80" y="911.40" width="7.00" height="7.00" fill="#C55A11" />
<text x="254.30" y="918.40" font-family="'Liberation Serif', serif" font-size="10.5" font-weight="bold" text-anchor="start" fill="#000" >U</text>
<rect x="265.80" y="911.40" width="7.00" height="7.00" fill="#595959" />
<text x="276.30" y="918.40" font-family="'Liberation Serif', serif" font-size="10.5" font-weight="bold" text-anchor="start" fill="#000" >C</text>
<rect x="287.80" y="911.40" width="7.00" height="7.00" fill="#FFC000" />
<text x="298.30" y="918.40" font-family="'Liberation Serif', serif" font-size="10.5" font-weight="bold" text-anchor="start" fill="#000" >G</text>
<text x="785.50" y="698.00" font-family="'Liberation Serif', serif" font-size="16.9" font-weight="bold" text-anchor="middle" fill="#000" >known_miRNA (ST)</text>
<rect x="621.35" y="809.20" width="11.70" height="67.00" fill="#2E75B6" />
<rect x="621.35" y="727.25" width="11.70" height="82.95" fill="#C55A11" />
<rect x="621.35" y="719.35" width="11.70" height="8.89" fill="#767171" />
<rect x="621.35" y="718.30" width="11.70" height="2.05" fill="#FFC000" />
<text x="626.90" y="892.60" font-family="'Liberation Serif', serif" font-size="11" font-weight="bold" text-anchor="middle" fill="#000" >18</text>
<line x1="627.20" y1="876.20" x2="627.20" y2="879.20" stroke="#404040" stroke-width="1"/>
<rect x="650.38" y="824.20" width="11.70" height="52.00" fill="#2E75B6" />
<rect x="650.38" y="724.25" width="11.70" height="100.95" fill="#C55A11" />
<rect x="650.38" y="719.35" width="11.70" height="5.89" fill="#767171" />
<rect x="650.38" y="718.30" width="11.70" height="2.05" fill="#FFC000" />
<text x="655.93" y="892.60" font-family="'Liberation Serif', serif" font-size="11" font-weight="bold" text-anchor="middle" fill="#000" >19</text>
<line x1="656.23" y1="876.20" x2="656.23" y2="879.20" stroke="#404040" stroke-width="1"/>
<rect x="679.41" y="866.04" width="11.70" height="10.16" fill="#2E75B6" />
<rect x="679.41" y="722.04" width="11.70" height="145.00" fill="#C55A11" />
<rect x="679.41" y="718.30" width="11.70" height="4.74" fill="#767171" />
<rect x="679.41" y="718.30" width="11.70" height="0.47" fill="#FFC000" />
<text x="684.96" y="892.60" font-family="'Liberation Serif', serif" font-size="11" font-weight="bold" text-anchor="middle" fill="#000" >20</text>
<line x1="685.26" y1="876.20" x2="685.26" y2="879.20" stroke="#404040" stroke-width="1"/>
<rect x="708.44" y="836.36" width="11.70" height="39.84" fill="#2E75B6" />
<rect x="708.44" y="728.83" width="11.70" height="108.53" fill="#C55A11" />
<rect x="708.44" y="718.30" width="11.70" height="11.53" fill="#767171" />
<text x="713.99" y="892.60" font-family="'Liberation Serif', serif" font-size="11" font-weight="bold" text-anchor="middle" fill="#000" >21</text>
<line x1="714.29" y1="876.20" x2="714.29" y2="879.20" stroke="#404040" stroke-width="1"/>
<rect x="737.47" y="864.94" width="11.70" height="11.26" fill="#2E75B6" />
<rect x="737.47" y="724.88" width="11.70" height="141.06" fill="#C55A11" />
<rect x="737.47" y="718.30" width="11.70" height="7.58" fill="#767171" />
<rect x="737.47" y="718.30" width="11.70" height="0.47" fill="#FFC000" />
<text x="743.02" y="892.60" font-family="'Liberation Serif', serif" font-size="11" font-weight="bold" text-anchor="middle" fill="#000" >22</text>
<line x1="743.32" y1="876.20" x2="743.32" y2="879.20" stroke="#404040" stroke-width="1"/>
<rect x="766.50" y="858.46" width="11.70" height="17.74" fill="#2E75B6" />
<rect x="766.50" y="721.72" width="11.70" height="137.74" fill="#C55A11" />
<rect x="766.50" y="718.30" width="11.70" height="4.42" fill="#767171" />
<rect x="766.50" y="718.30" width="11.70" height="0.47" fill="#FFC000" />
<text x="772.05" y="892.60" font-family="'Liberation Serif', serif" font-size="11" font-weight="bold" text-anchor="middle" fill="#000" >23</text>
<line x1="772.35" y1="876.20" x2="772.35" y2="879.20" stroke="#404040" stroke-width="1"/>
<rect x="795.53" y="866.04" width="11.70" height="10.16" fill="#2E75B6" />
<rect x="795.53" y="724.88" width="11.70" height="142.16" fill="#C55A11" />
<rect x="795.53" y="718.30" width="11.70" height="7.58" fill="#767171" />
<rect x="795.53" y="718.30" width="11.70" height="0.47" fill="#FFC000" />
<text x="801.08" y="892.60" font-family="'Liberation Serif', serif" font-size="11" font-weight="bold" text-anchor="middle" fill="#000" >24</text>
<line x1="801.38" y1="876.20" x2="801.38" y2="879.20" stroke="#404040" stroke-width="1"/>
<rect x="824.56" y="727.25" width="11.70" height="148.95" fill="#2E75B6" />
<rect x="824.56" y="722.83" width="11.70" height="5.42" fill="#C55A11" />
<rect x="824.56" y="719.35" width="11.70" height="4.47" fill="#767171" />
<rect x="824.56" y="718.30" width="11.70" height="2.05" fill="#FFC000" />
<text x="830.11" y="892.60" font-family="'Liberation Serif', serif" font-size="11" font-weight="bold" text-anchor="middle" fill="#000" >25</text>
<line x1="830.41" y1="876.20" x2="830.41" y2="879.20" stroke="#404040" stroke-width="1"/>
<rect x="853.59" y="740.35" width="11.70" height="135.85" fill="#2E75B6" />
<rect x="853.59" y="718.30" width="11.70" height="23.05" fill="#C55A11" />
<rect x="853.59" y="718.30" width="11.70" height="0.79" fill="#767171" />
<text x="859.14" y="892.60" font-family="'Liberation Serif', serif" font-size="11" font-weight="bold" text-anchor="middle" fill="#000" >26</text>
<line x1="859.44" y1="876.20" x2="859.44" y2="879.20" stroke="#404040" stroke-width="1"/>
<rect x="882.62" y="754.09" width="11.70" height="122.11" fill="#2E75B6" />
<rect x="882.62" y="729.62" width="11.70" height="25.47" fill="#C55A11" />
<rect x="882.62" y="718.30" width="11.70" height="12.32" fill="#767171" />
<text x="888.17" y="892.60" font-family="'Liberation Serif', serif" font-size="11" font-weight="bold" text-anchor="middle" fill="#000" >27</text>
<line x1="888.47" y1="876.20" x2="888.47" y2="879.20" stroke="#404040" stroke-width="1"/>
<rect x="911.65" y="789.30" width="11.70" height="86.90" fill="#C55A11" />
<rect x="911.65" y="718.30" width="11.70" height="72.00" fill="#767171" />
<text x="917.20" y="892.60" font-family="'Liberation Serif', serif" font-size="11" font-weight="bold" text-anchor="middle" fill="#000" >28</text>
<line x1="917.50" y1="876.20" x2="917.50" y2="879.20" stroke="#404040" stroke-width="1"/>
<rect x="940.68" y="785.20" width="11.70" height="91.00" fill="#2E75B6" />
<rect x="940.68" y="718.30" width="11.70" height="67.90" fill="#C55A11" />
<text x="946.23" y="892.60" font-family="'Liberation Serif', serif" font-size="11" font-weight="bold" text-anchor="middle" fill="#000" >29</text>
<line x1="946.53" y1="876.20" x2="946.53" y2="879.20" stroke="#404040" stroke-width="1"/>
<rect x="969.71" y="856.25" width="11.70" height="19.95" fill="#2E75B6" />
<rect x="969.71" y="718.30" width="11.70" height="138.95" fill="#C55A11" />
<text x="975.26" y="892.60" font-family="'Liberation Serif', serif" font-size="11" font-weight="bold" text-anchor="middle" fill="#000" >30</text>
<line x1="975.56" y1="876.20" x2="975.56" y2="879.20" stroke="#404040" stroke-width="1"/>
<line x1="612.50" y1="718.30" x2="612.50" y2="876.70" stroke="#404040" stroke-width="1.3"/>
<line x1="612.50" y1="876.20" x2="990.66" y2="876.20" stroke="#404040" stroke-width="1.3"/>
<line x1="990.66" y1="876.20" x2="990.66" y2="879.20" stroke="#404040" stroke-width="1"/>
<line x1="608.50" y1="876.20" x2="612.50" y2="876.20" stroke="#404040" stroke-width="1"/>
<text x="606.00" y="880.00" font-family="'Liberation Serif', serif" font-size="10.8" font-weight="bold" text-anchor="end" fill="#000" >0%</text>
<line x1="608.50" y1="860.41" x2="612.50" y2="860.41" stroke="#404040" stroke-width="1"/>
<text x="606.00" y="864.21" font-family="'Liberation Serif', serif" font-size="10.8" font-weight="bold" text-anchor="end" fill="#000" >10%</text>
<line x1="608.50" y1="844.62" x2="612.50" y2="844.62" stroke="#404040" stroke-width="1"/>
<text x="606.00" y="848.42" font-family="'Liberation Serif', serif" font-size="10.8" font-weight="bold" text-anchor="end" fill="#000" >20%</text>
<line x1="608.50" y1="828.83" x2="612.50" y2="828.83" stroke="#404040" stroke-width="1"/>
<text x="606.00" y="832.63" font-family="'Liberation Serif', serif" font-size="10.8" font-weight="bold" text-anchor="end" fill="#000" >30%</text>
<line x1="608.50" y1="813.04" x2="612.50" y2="813.04" stroke="#404040" stroke-width="1"/>
<text x="606.00" y="816.84" font-family="'Liberation Serif', serif" font-size="10.8" font-weight="bold" text-anchor="end" fill="#000" >40%</text>
<line x1="608.50" y1="797.25" x2="612.50" y2="797.25" stroke="#404040" stroke-width="1"/>
<text x="606.00" y="801.05" font-family="'Liberation Serif', serif" font-size="10.8" font-weight="bold" text-anchor="end" fill="#000" >50%</text>
<line x1="608.50" y1="781.46" x2="612.50" y2="781.46" stroke="#404040" stroke-width="1"/>
<text x="606.00" y="785.26" font-family="'Liberation Serif', serif" font-size="10.8" font-weight="bold" text-anchor="end" fill="#000" >60%</text>
<line x1="608.50" y1="765.67" x2="612.50" y2="765.67" stroke="#404040" stroke-width="1"/>
<text x="606.00" y="769.47" font-family="'Liberation Serif', serif" font-size="10.8" font-weight="bold" text-anchor="end" fill="#000" >70%</text>
<line x1="608.50" y1="749.88" x2="612.50" y2="749.88" stroke="#404040" stroke-width="1"/>
<text x="606.00" y="753.68" font-family="'Liberation Serif', serif" font-size="10.8" font-weight="bold" text-anchor="end" fill="#000" >80%</text>
<line x1="608.50" y1="734.09" x2="612.50" y2="734.09" stroke="#404040" stroke-width="1"/>
<text x="606.00" y="737.89" font-family="'Liberation Serif', serif" font-size="10.8" font-weight="bold" text-anchor="end" fill="#000" >90%</text>
<line x1="608.50" y1="718.30" x2="612.50" y2="718.30" stroke="#404040" stroke-width="1"/>
<text x="606.00" y="722.10" font-family="'Liberation Serif', serif" font-size="10.8" font-weight="bold" text-anchor="end" fill="#000" >100%</text>
<rect x="743.50" y="911.60" width="7.00" height="7.00" fill="#2E75B6" />
<text x="754.00" y="918.60" font-family="'Liberation Serif', serif" font-size="10.5" font-weight="bold" text-anchor="start" fill="#000" >A</text>
<rect x="765.50" y="911.60" width="7.00" height="7.00" fill="#C55A11" />
<text x="776.00" y="918.60" font-family="'Liberation Serif', serif" font-size="10.5" font-weight="bold" text-anchor="start" fill="#000" >U</text>
<rect x="787.50" y="911.60" width="7.00" height="7.00" fill="#767171" />
<text x="798.00" y="918.60" font-family="'Liberation Serif', serif" font-size="10.5" font-weight="bold" text-anchor="start" fill="#000" >C</text>
<rect x="809.50" y="911.60" width="7.00" height="7.00" fill="#FFC000" />
<text x="820.00" y="918.60" font-family="'Liberation Serif', serif" font-size="10.5" font-weight="bold" text-anchor="start" fill="#000" >G</text>
<text x="263.30" y="1001.50" font-family="'Liberation Serif', serif" font-size="16.9" font-weight="bold" text-anchor="middle" fill="#000" >novel_miRNA (SM)</text>
<rect x="99.05" y="1080.42" width="11.70" height="98.18" fill="#2E75B6" />
<rect x="99.05" y="1050.12" width="11.70" height="31.30" fill="#C55A11" />
<rect x="99.05" y="1046.66" width="11.70" height="4.45" fill="#767171" />
<rect x="99.05" y="1021.60" width="11.70" height="26.06" fill="#FFC000" />
<text x="104.60" y="1195.00" font-family="'Liberation Serif', serif" font-size="11" font-weight="bold" text-anchor="middle" fill="#000" >18</text>
<line x1="104.90" y1="1178.60" x2="104.90" y2="1181.60" stroke="#404040" stroke-width="1"/>
<rect x="128.08" y="1172.58" width="11.70" height="6.02" fill="#2E75B6" />
<rect x="128.08" y="1028.14" width="11.70" height="145.44" fill="#C55A11" />
<rect x="128.08" y="1024.21" width="11.70" height="4.92" fill="#767171" />
<rect x="128.08" y="1021.60" width="11.70" height="3.61" fill="#FFC000" />
<text x="133.63" y="1195.00" font-family="'Liberation Serif', serif" font-size="11" font-weight="bold" text-anchor="middle" fill="#000" >19</text>
<line x1="133.93" y1="1178.60" x2="133.93" y2="1181.60" stroke="#404040" stroke-width="1"/>
<rect x="157.11" y="1175.09" width="11.70" height="3.51" fill="#2E75B6" />
<rect x="157.11" y="1027.04" width="11.70" height="149.05" fill="#C55A11" />
<rect x="157.11" y="1021.60" width="11.70" height="6.44" fill="#767171" />
<rect x="157.11" y="1021.60" width="11.70" height="0.63" fill="#FFC000" />
<text x="162.66" y="1195.00" font-family="'Liberation Serif', serif" font-size="11" font-weight="bold" text-anchor="middle" fill="#000" >20</text>
<line x1="162.96" y1="1178.60" x2="162.96" y2="1181.60" stroke="#404040" stroke-width="1"/>
<rect x="186.14" y="1173.20" width="11.70" height="5.40" fill="#2E75B6" />
<rect x="186.14" y="1031.12" width="11.70" height="143.09" fill="#C55A11" />
<rect x="186.14" y="1021.60" width="11.70" height="10.52" fill="#767171" />
<rect x="186.14" y="1021.60" width="11.70" height="0.47" fill="#FFC000" />
<text x="191.69" y="1195.00" font-family="'Liberation Serif', serif" font-size="11" font-weight="bold" text-anchor="middle" fill="#000" >21</text>
<line x1="191.99" y1="1178.60" x2="191.99" y2="1181.60" stroke="#404040" stroke-width="1"/>
<rect x="215.17" y="1161.12" width="11.70" height="17.48" fill="#2E75B6" />
<rect x="215.17" y="1036.77" width="11.70" height="125.34" fill="#C55A11" />
<rect x="215.17" y="1022.80" width="11.70" height="14.97" fill="#767171" />
<rect x="215.17" y="1021.60" width="11.70" height="2.20" fill="#FFC000" />
<text x="220.72" y="1195.00" font-family="'Liberation Serif', serif" font-size="11" font-weight="bold" text-anchor="middle" fill="#000" >22</text>
<line x1="221.02" y1="1178.60" x2="221.02" y2="1181.60" stroke="#404040" stroke-width="1"/>
<rect x="244.20" y="1175.56" width="11.70" height="3.04" fill="#2E75B6" />
<rect x="244.20" y="1024.53" width="11.70" height="152.03" fill="#C55A11" />
<rect x="244.20" y="1021.60" width="11.70" height="3.93" fill="#767171" />
<rect x="244.20" y="1021.60" width="11.70" height="0.94" fill="#FFC000" />
<text x="249.75" y="1195.00" font-family="'Liberation Serif', serif" font-size="11" font-weight="bold" text-anchor="middle" fill="#000" >23</text>
<line x1="250.05" y1="1178.60" x2="250.05" y2="1181.60" stroke="#404040" stroke-width="1"/>
<rect x="273.23" y="1022.33" width="11.70" height="156.27" fill="#C55A11" />
<rect x="273.23" y="1021.60" width="11.70" height="1.73" fill="#767171" />
<text x="278.78" y="1195.00" font-family="'Liberation Serif', serif" font-size="11" font-weight="bold" text-anchor="middle" fill="#000" >24</text>
<line x1="279.08" y1="1178.60" x2="279.08" y2="1181.60" stroke="#404040" stroke-width="1"/>
<rect x="302.26" y="1132.70" width="11.70" height="45.90" fill="#2E75B6" />
<rect x="302.26" y="1057.65" width="11.70" height="76.05" fill="#C55A11" />
<rect x="302.26" y="1024.21" width="11.70" height="34.44" fill="#767171" />
<rect x="302.26" y="1021.60" width="11.70" height="3.61" fill="#FFC000" />
<text x="307.81" y="1195.00" font-family="'Liberation Serif', serif" font-size="11" font-weight="bold" text-anchor="middle" fill="#000" >25</text>
<line x1="308.11" y1="1178.60" x2="308.11" y2="1181.60" stroke="#404040" stroke-width="1"/>
<rect x="331.29" y="1170.06" width="11.70" height="8.54" fill="#2E75B6" />
<rect x="331.29" y="1069.58" width="11.70" height="101.48" fill="#C55A11" />
<rect x="331.29" y="1038.65" width="11.70" height="31.93" fill="#767171" />
<rect x="331.29" y="1021.60" width="11.70" height="18.05" fill="#FFC000" />
<text x="336.84" y="1195.00" font-family="'Liberation Serif', serif" font-size="11" font-weight="bold" text-anchor="middle" fill="#000" >26</text>
<line x1="337.14" y1="1178.60" x2="337.14" y2="1181.60" stroke="#404040" stroke-width="1"/>
<rect x="360.32" y="1153.74" width="11.70" height="24.86" fill="#2E75B6" />
<rect x="360.32" y="1034.42" width="11.70" height="120.32" fill="#C55A11" />
<rect x="360.32" y="1025.31" width="11.70" height="10.11" fill="#767171" />
<rect x="360.32" y="1021.60" width="11.70" height="4.71" fill="#FFC000" />
<text x="365.87" y="1195.00" font-family="'Liberation Serif', serif" font-size="11" font-weight="bold" text-anchor="middle" fill="#000" >27</text>
<line x1="366.17" y1="1178.60" x2="366.17" y2="1181.60" stroke="#404040" stroke-width="1"/>
<rect x="389.35" y="1169.44" width="11.70" height="9.16" fill="#2E75B6" />
<rect x="389.35" y="1060.01" width="11.70" height="110.43" fill="#C55A11" />
<rect x="389.35" y="1050.74" width="11.70" height="10.26" fill="#767171" />
<rect x="389.35" y="1021.60" width="11.70" height="30.14" fill="#FFC000" />
<text x="394.90" y="1195.00" font-family="'Liberation Serif', serif" font-size="11" font-weight="bold" text-anchor="middle" fill="#000" >28</text>
<line x1="395.20" y1="1178.60" x2="395.20" y2="1181.60" stroke="#404040" stroke-width="1"/>
<rect x="418.38" y="1146.67" width="11.70" height="31.93" fill="#2E75B6" />
<rect x="418.38" y="1083.56" width="11.70" height="64.11" fill="#C55A11" />
<rect x="418.38" y="1021.60" width="11.70" height="62.96" fill="#767171" />
<text x="423.93" y="1195.00" font-family="'Liberation Serif', serif" font-size="11" font-weight="bold" text-anchor="middle" fill="#000" >29</text>
<line x1="424.23" y1="1178.60" x2="424.23" y2="1181.60" stroke="#404040" stroke-width="1"/>
<rect x="447.41" y="1161.59" width="11.70" height="17.01" fill="#2E75B6" />
<rect x="447.41" y="1103.81" width="11.70" height="58.78" fill="#C55A11" />
<rect x="447.41" y="1087.17" width="11.70" height="17.64" fill="#767171" />
<rect x="447.41" y="1021.60" width="11.70" height="66.57" fill="#FFC000" />
<text x="452.96" y="1195.00" font-family="'Liberation Serif', serif" font-size="11" font-weight="bold" text-anchor="middle" fill="#000" >30</text>
<line x1="453.26" y1="1178.60" x2="453.26" y2="1181.60" stroke="#404040" stroke-width="1"/>
<line x1="90.20" y1="1021.60" x2="90.20" y2="1179.10" stroke="#404040" stroke-width="1.3"/>
<line x1="90.20" y1="1178.60" x2="468.36" y2="1178.60" stroke="#404040" stroke-width="1.3"/>
<line x1="468.36" y1="1178.60" x2="468.36" y2="1181.60" stroke="#404040" stroke-width="1"/>
<line x1="86.20" y1="1178.60" x2="90.20" y2="1178.60" stroke="#404040" stroke-width="1"/>
<text x="83.70" y="1182.40" font-family="'Liberation Serif', serif" font-size="10.8" font-weight="bold" text-anchor="end" fill="#000" >0%</text>
<line x1="86.20" y1="1162.90" x2="90.20" y2="1162.90" stroke="#404040" stroke-width="1"/>
<text x="83.70" y="1166.70" font-family="'Liberation Serif', serif" font-size="10.8" font-weight="bold" text-anchor="end" fill="#000" >10%</text>
<line x1="86.20" y1="1147.20" x2="90.20" y2="1147.20" stroke="#404040" stroke-width="1"/>
<text x="83.70" y="1151.00" font-family="'Liberation Serif', serif" font-size="10.8" font-weight="bold" text-anchor="end" fill="#000" >20%</text>
<line x1="86.20" y1="1131.50" x2="90.20" y2="1131.50" stroke="#404040" stroke-width="1"/>
<text x="83.70" y="1135.30" font-family="'Liberation Serif', serif" font-size="10.8" font-weight="bold" text-anchor="end" fill="#000" >30%</text>
<line x1="86.20" y1="1115.80" x2="90.20" y2="1115.80" stroke="#404040" stroke-width="1"/>
<text x="83.70" y="1119.60" font-family="'Liberation Serif', serif" font-size="10.8" font-weight="bold" text-anchor="end" fill="#000" >40%</text>
<line x1="86.20" y1="1100.10" x2="90.20" y2="1100.10" stroke="#404040" stroke-width="1"/>
<text x="83.70" y="1103.90" font-family="'Liberation Serif', serif" font-size="10.8" font-weight="bold" text-anchor="end" fill="#000" >50%</text>
<line x1="86.20" y1="1084.40" x2="90.20" y2="1084.40" stroke="#404040" stroke-width="1"/>
<text x="83.70" y="1088.20" font-family="'Liberation Serif', serif" font-size="10.8" font-weight="bold" text-anchor="end" fill="#000" >60%</text>
<line x1="86.20" y1="1068.70" x2="90.20" y2="1068.70" stroke="#404040" stroke-width="1"/>
<text x="83.70" y="1072.50" font-family="'Liberation Serif', serif" font-size="10.8" font-weight="bold" text-anchor="end" fill="#000" >70%</text>
<line x1="86.20" y1="1053.00" x2="90.20" y2="1053.00" stroke="#404040" stroke-width="1"/>
<text x="83.70" y="1056.80" font-family="'Liberation Serif', serif" font-size="10.8" font-weight="bold" text-anchor="end" fill="#000" >80%</text>
<line x1="86.20" y1="1037.30" x2="90.20" y2="1037.30" stroke="#404040" stroke-width="1"/>
<text x="83.70" y="1041.10" font-family="'Liberation Serif', serif" font-size="10.8" font-weight="bold" text-anchor="end" fill="#000" >90%</text>
<line x1="86.20" y1="1021.60" x2="90.20" y2="1021.60" stroke="#404040" stroke-width="1"/>
<text x="83.70" y="1025.40" font-family="'Liberation Serif', serif" font-size="10.8" font-weight="bold" text-anchor="end" fill="#000" >100%</text>
<rect x="222.00" y="1215.50" width="7.00" height="7.00" fill="#2E75B6" />
<text x="232.50" y="1222.50" font-family="'Liberation Serif', serif" font-size="10.5" font-weight="bold" text-anchor="start" fill="#000" >A</text>
<rect x="244.00" y="1215.50" width="7.00" height="7.00" fill="#C55A11" />
<text x="254.50" y="1222.50" font-family="'Liberation Serif', serif" font-size="10.5" font-weight="bold" text-anchor="start" fill="#000" >U</text>
<rect x="266.00" y="1215.50" width="7.00" height="7.00" fill="#767171" />
<text x="276.50" y="1222.50" font-family="'Liberation Serif', serif" font-size="10.5" font-weight="bold" text-anchor="start" fill="#000" >C</text>
<rect x="288.00" y="1215.50" width="7.00" height="7.00" fill="#FFC000" />
<text x="298.50" y="1222.50" font-family="'Liberation Serif', serif" font-size="10.5" font-weight="bold" text-anchor="start" fill="#000" >G</text>
<text x="785.80" y="1002.00" font-family="'Liberation Serif', serif" font-size="16.9" font-weight="bold" text-anchor="middle" fill="#000" >novel_miRNA (ST)</text>
<rect x="621.45" y="1104.28" width="11.70" height="74.32" fill="#2E75B6" />
<rect x="621.45" y="1064.09" width="11.70" height="41.19" fill="#C55A11" />
<rect x="621.45" y="1058.12" width="11.70" height="6.97" fill="#767171" />
<rect x="621.45" y="1021.60" width="11.70" height="37.52" fill="#FFC000" />
<text x="627.00" y="1195.00" font-family="'Liberation Serif', serif" font-size="11" font-weight="bold" text-anchor="middle" fill="#595959" >18</text>
<rect x="650.48" y="1173.20" width="11.70" height="5.40" fill="#2E75B6" />
<rect x="650.48" y="1028.14" width="11.70" height="146.07" fill="#C55A11" />
<rect x="650.48" y="1024.21" width="11.70" height="4.92" fill="#767171" />
<rect x="650.48" y="1021.60" width="11.70" height="3.61" fill="#FFC000" />
<text x="656.03" y="1195.00" font-family="'Liberation Serif', serif" font-size="11" font-weight="bold" text-anchor="middle" fill="#595959" >19</text>
<rect x="679.51" y="1175.24" width="11.70" height="3.36" fill="#2E75B6" />
<rect x="679.51" y="1028.61" width="11.70" height="147.64" fill="#C55A11" />
<rect x="679.51" y="1021.60" width="11.70" height="8.01" fill="#767171" />
<rect x="679.51" y="1021.60" width="11.70" height="0.47" fill="#FFC000" />
<text x="685.06" y="1195.00" font-family="'Liberation Serif', serif" font-size="11" font-weight="bold" text-anchor="middle" fill="#595959" >20</text>
<rect x="708.54" y="1171.01" width="11.70" height="7.59" fill="#2E75B6" />
<rect x="708.54" y="1037.40" width="11.70" height="134.61" fill="#C55A11" />
<rect x="708.54" y="1022.64" width="11.70" height="15.76" fill="#767171" />
<rect x="708.54" y="1021.60" width="11.70" height="2.04" fill="#FFC000" />
<text x="714.09" y="1195.00" font-family="'Liberation Serif', serif" font-size="11" font-weight="bold" text-anchor="middle" fill="#595959" >21</text>
<rect x="737.57" y="1161.59" width="11.70" height="17.01" fill="#2E75B6" />
<rect x="737.57" y="1039.60" width="11.70" height="122.99" fill="#C55A11" />
<rect x="737.57" y="1023.58" width="11.70" height="17.01" fill="#767171" />
<rect x="737.57" y="1021.60" width="11.70" height="2.98" fill="#FFC000" />
<text x="743.12" y="1195.00" font-family="'Liberation Serif', serif" font-size="11" font-weight="bold" text-anchor="middle" fill="#595959" >22</text>
<rect x="766.60" y="1175.56" width="11.70" height="3.04" fill="#2E75B6" />
<rect x="766.60" y="1023.74" width="11.70" height="152.82" fill="#C55A11" />
<rect x="766.60" y="1021.60" width="11.70" height="3.14" fill="#767171" />
<rect x="766.60" y="1021.60" width="11.70" height="0.63" fill="#FFC000" />
<text x="772.15" y="1195.00" font-family="'Liberation Serif', serif" font-size="11" font-weight="bold" text-anchor="middle" fill="#595959" >23</text>
<rect x="795.63" y="1022.17" width="11.70" height="156.43" fill="#C55A11" />
<rect x="795.63" y="1021.60" width="11.70" height="1.57" fill="#767171" />
<rect x="795.63" y="1021.60" width="11.70" height="0.47" fill="#FFC000" />
<text x="801.18" y="1195.00" font-family="'Liberation Serif', serif" font-size="11" font-weight="bold" text-anchor="middle" fill="#595959" >24</text>
<rect x="824.66" y="1134.11" width="11.70" height="44.49" fill="#2E75B6" />
<rect x="824.66" y="1059.22" width="11.70" height="75.89" fill="#C55A11" />
<rect x="824.66" y="1024.21" width="11.70" height="36.01" fill="#767171" />
<rect x="824.66" y="1021.60" width="11.70" height="3.61" fill="#FFC000" />
<text x="830.21" y="1195.00" font-family="'Liberation Serif', serif" font-size="11" font-weight="bold" text-anchor="middle" fill="#595959" >25</text>
<rect x="853.69" y="1171.01" width="11.70" height="7.59" fill="#2E75B6" />
<rect x="853.69" y="1082.93" width="11.70" height="89.08" fill="#C55A11" />
<rect x="853.69" y="1060.63" width="11.70" height="23.29" fill="#767171" />
<rect x="853.69" y="1021.60" width="11.70" height="40.03" fill="#FFC000" />
<text x="859.24" y="1195.00" font-family="'Liberation Serif', serif" font-size="11" font-weight="bold" text-anchor="middle" fill="#595959" >26</text>
<rect x="882.72" y="1166.30" width="11.70" height="12.30" fill="#2E75B6" />
<rect x="882.72" y="1047.76" width="11.70" height="119.53" fill="#C55A11" />
<rect x="882.72" y="1030.18" width="11.70" height="18.58" fill="#767171" />
<rect x="882.72" y="1021.60" width="11.70" height="9.58" fill="#FFC000" />
<text x="888.27" y="1195.00" font-family="'Liberation Serif', serif" font-size="11" font-weight="bold" text-anchor="middle" fill="#595959" >27</text>
<rect x="911.75" y="1160.64" width="11.70" height="17.96" fill="#2E75B6" />
<rect x="911.75" y="1101.45" width="11.70" height="60.19" fill="#C55A11" />
<rect x="911.75" y="1093.13" width="11.70" height="9.32" fill="#767171" />
<rect x="911.75" y="1021.60" width="11.70" height="72.53" fill="#FFC000" />
<text x="917.30" y="1195.00" font-family="'Liberation Serif', serif" font-size="11" font-weight="bold" text-anchor="middle" fill="#595959" >28</text>
<rect x="940.78" y="1161.27" width="11.70" height="17.33" fill="#2E75B6" />
<rect x="940.78" y="1090.31" width="11.70" height="71.96" fill="#C55A11" />
<rect x="940.78" y="1073.19" width="11.70" height="18.11" fill="#767171" />
<rect x="940.78" y="1021.60" width="11.70" height="52.59" fill="#FFC000" />
<text x="946.33" y="1195.00" font-family="'Liberation Serif', serif" font-size="11" font-weight="bold" text-anchor="middle" fill="#595959" >29</text>
<rect x="969.81" y="1134.74" width="11.70" height="43.86" fill="#2E75B6" />
<rect x="969.81" y="1077.12" width="11.70" height="58.62" fill="#C55A11" />
<rect x="969.81" y="1046.03" width="11.70" height="32.09" fill="#767171" />
<rect x="969.81" y="1021.60" width="11.70" height="25.43" fill="#FFC000" />
<text x="975.36" y="1195.00" font-family="'Liberation Serif', serif" font-size="11" font-weight="bold" text-anchor="middle" fill="#595959" >30</text>
<line x1="612.60" y1="1021.60" x2="612.60" y2="1179.10" stroke="#404040" stroke-width="1.3"/>
<line x1="612.60" y1="1178.60" x2="990.76" y2="1178.60" stroke="#404040" stroke-width="1.3"/>
<text x="606.10" y="1182.40" font-family="'Liberation Serif', serif" font-size="10.8" font-weight="bold" text-anchor="end" fill="#262626" >0%</text>
<text x="606.10" y="1166.70" font-family="'Liberation Serif', serif" font-size="10.8" font-weight="bold" text-anchor="end" fill="#262626" >10%</text>
<text x="606.10" y="1151.00" font-family="'Liberation Serif', serif" font-size="10.8" font-weight="bold" text-anchor="end" fill="#262626" >20%</text>
<text x="606.10" y="1135.30" font-family="'Liberation Serif', serif" font-size="10.8" font-weight="bold" text-anchor="end" fill="#262626" >30%</text>
<text x="606.10" y="1119.60" font-family="'Liberation Serif', serif" font-size="10.8" font-weight="bold" text-anchor="end" fill="#262626" >40%</text>
<text x="606.10" y="1103.90" font-family="'Liberation Serif', serif" font-size="10.8" font-weight="bold" text-anchor="end" fill="#262626" >50%</text>
<text x="606.10" y="1088.20" font-family="'Liberation Serif', serif" font-size="10.8" font-weight="bold" text-anchor="end" fill="#262626" >60%</text>
<text x="606.10" y="1072.50" font-family="'Liberation Serif', serif" font-size="10.8" font-weight="bold" text-anchor="end" fill="#262626" >70%</text>
<text x="606.10" y="1056.80" font-family="'Liberation Serif', serif" font-size="10.8" font-weight="bold" text-anchor="end" fill="#262626" >80%</text>
<text x="606.10" y="1041.10" font-family="'Liberation Serif', serif" font-size="10.8" font-weight="bold" text-anchor="end" fill="#262626" >90%</text>
<text x="606.10" y="1025.40" font-family="'Liberation Serif', serif" font-size="10.8" font-weight="bold" text-anchor="end" fill="#262626" >100%</text>
<rect x="743.20" y="1215.50" width="7.00" height="7.00" fill="#2E75B6" />
<text x="753.70" y="1222.50" font-family="'Liberation Serif', serif" font-size="10.5" font-weight="bold" text-anchor="start" fill="#000" >A</text>
<rect x="765.20" y="1215.50" width="7.00" height="7.00" fill="#C55A11" />
<text x="775.70" y="1222.50" font-family="'Liberation Serif', serif" font-size="10.5" font-weight="bold" text-anchor="start" fill="#000" >U</text>
<rect x="787.20" y="1215.50" width="7.00" height="7.00" fill="#767171" />
<text x="797.70" y="1222.50" font-family="'Liberation Serif', serif" font-size="10.5" font-weight="bold" text-anchor="start" fill="#000" >C</text>
<rect x="809.20" y="1215.50" width="7.00" height="7.00" fill="#FFC000" />
<text x="819.70" y="1222.50" font-family="'Liberation Serif', serif" font-size="10.5" font-weight="bold" text-anchor="start" fill="#000" >G</text>
</svg>
</body></html>
